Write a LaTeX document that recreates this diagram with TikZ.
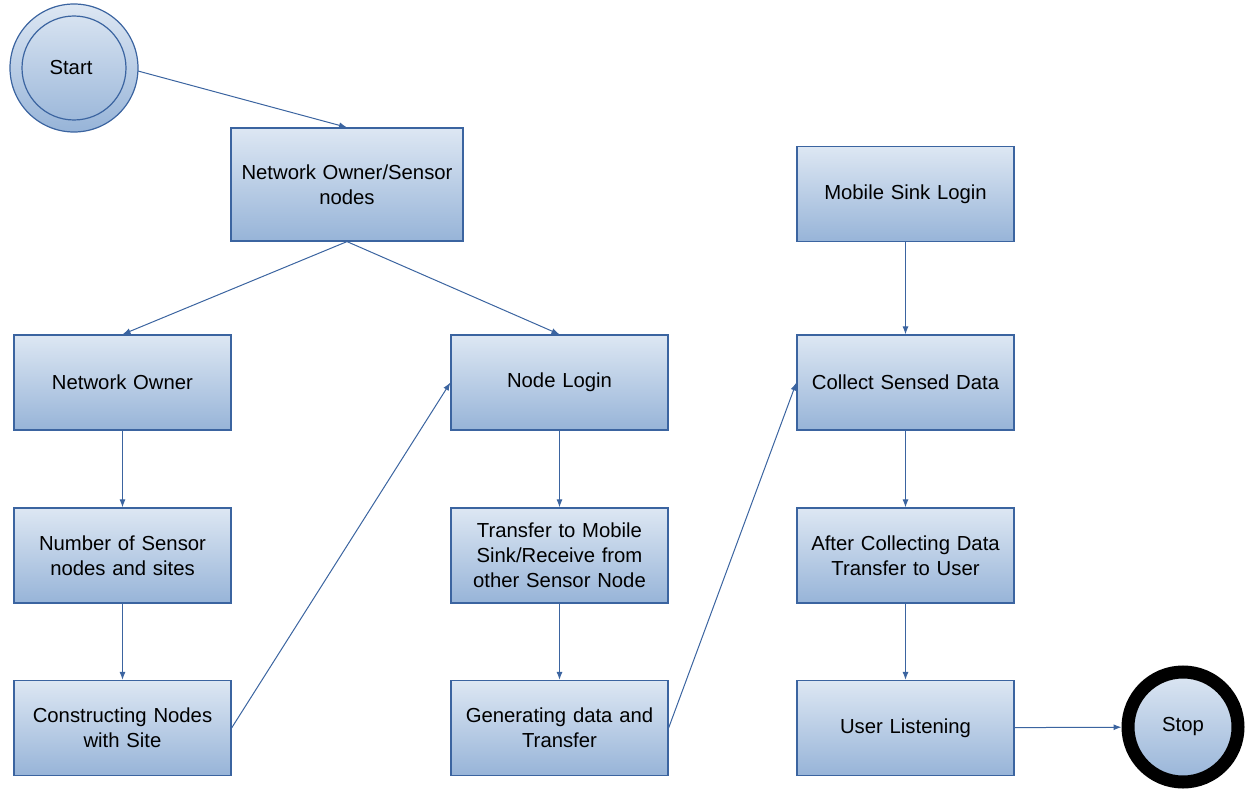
\documentclass[tikz,border=0pt]{standalone}
\usepackage{fontspec}
\setmainfont{Liberation Sans}
\usetikzlibrary{arrows.meta}
\definecolor{edge}{HTML}{3B64A0}
\definecolor{topc}{HTML}{DDE7F3}
\definecolor{botc}{HTML}{97B4D8}
\tikzset{
  lbl/.style={font=\fontsize{20.3}{25}\selectfont},
  box/.style={lbl, draw=edge, line width=1.2pt, top color=topc, bottom color=botc, minimum width=217pt, minimum height=95pt, inner sep=0pt, align=center, text width=210pt},
  link/.style={draw=edge, line width=1pt, -{Latex[length=8pt,width=6pt]}},
}
\begin{document}
\begin{tikzpicture}[x=1pt,y=-1pt]
\useasboundingbox (0,0) rectangle (1245,789);
% Start
\node[circle, draw=edge, line width=1.2pt, top color=topc, bottom color=botc, minimum size=128pt, inner sep=0pt] (start) at (74,68) {};
\node[lbl, circle, draw=edge, line width=1.2pt, minimum size=104pt, inner sep=0pt] (starti) at (74,68) {\hspace*{-6pt}Start};
% Boxes
\node[box, minimum width=232pt, minimum height=113pt, text width=228pt] (nos) at (347,184.5) {Network Owner/Sensor\\nodes};
\node[box] (no) at (122.5,382.5) {Network Owner};
\node[box] (num) at (122.5,555.5) {Number of Sensor\\nodes and sites};
\node[box] (con) at (122.5,728) {Constructing Nodes\\with Site};
\node[box] (nl) at (559.5,382.5) {Node Login};
\node[box] (tr) at (559.5,555.5) {Transfer to Mobile\\Sink/Receive from\\other Sensor Node};
\node[box] (gen) at (559.5,728) {Generating data and\\Transfer};
\node[box] (ms) at (905.5,194) {Mobile Sink Login};
\node[box] (col) at (905.5,382.5) {Collect Sensed Data};
\node[box] (aft) at (905.5,555.5) {After Collecting Data\\Transfer to User};
\node[box] (ul) at (905.5,728) {User Listening};
% Stop
\node[lbl, circle, draw=black, line width=13pt, top color=topc, bottom color=botc, minimum size=110pt, inner sep=0pt] (stop) at (1183,727) {Stop};
% Links
\coordinate (s1) at (138,71);
\draw[link] (s1) -- (nos.north);
\draw[link] (nos.south) -- (no.north);
\draw[link] (nos.south) -- (nl.north);
\draw[link] (no) -- (num);
\draw[link] (num) -- (con);
\draw[link] (con.east) -- (nl.west);
\draw[link] (nl) -- (tr);
\draw[link] (tr) -- (gen);
\draw[link] (gen.east) -- (col.west);
\draw[link] (ms) -- (col);
\draw[link] (col) -- (aft);
\draw[link] (aft) -- (ul);
\draw[link] (ul) -- (stop);
\end{tikzpicture}
\end{document}
